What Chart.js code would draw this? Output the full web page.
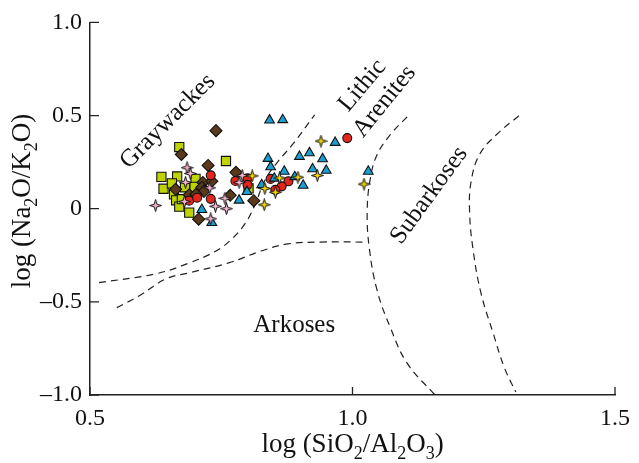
<!DOCTYPE html>
<html>
<head>
<meta charset="utf-8">
<script src="https://cdn.jsdelivr.net/npm/chart.js@4.4.1/dist/chart.umd.min.js"></script>
<style>
  html, body { margin: 0; padding: 0; background: #fff; }
  #wrap { width: 639px; height: 463px; }
</style>
</head>
<body>
<div id="wrap"><canvas id="grafico" width="639" height="463"></canvas></div>
<script>
// Ejes
const xTicks = [0.5, 1.0, 1.5];
const xTickLabels = ['0.5', '1.0', '1.5'];
const yTicks = [-1, -0.5, 0, 0.5, 1];
const yTickLabels = ['\u20131.0', '\u20130.5', '0', '0.5', '1.0'];

// Muestras [log(SiO2/Al2O3), log(Na2O/K2O)]
const squares = [[0.670, 0.331], [0.759, 0.256], [0.636, 0.171], [0.666, 0.173], [0.640, 0.107],
  [0.656, 0.136], [0.701, 0.160], [0.699, 0.117], [0.681, 0.115], [0.660, 0.077], [0.664, 0.045],
  [0.670, 0.011], [0.689, -0.021], [0.802, 0.109], [0.675, 0.051]];
const diamonds = [[0.740, 0.419], [0.674, 0.291], [0.725, 0.232], [0.778, 0.195], [0.715, 0.141],
  [0.732, 0.147], [0.713, 0.115], [0.717, 0.093], [0.663, 0.104], [0.689, 0.075], [0.702, 0.077],
  [0.767, 0.072], [0.812, 0.043], [0.707, -0.056]];
const circles = [[0.730, 0.179], [0.730, 0.053], [0.689, 0.043], [0.704, 0.059], [0.777, 0.149],
  [0.800, 0.163], [0.800, 0.128], [0.844, 0.160], [0.878, 0.147], [0.865, 0.120], [0.853, 0.101],
  [0.990, 0.379]];
const triangles = [[0.842, 0.475], [0.867, 0.477], [0.967, 0.355], [0.839, 0.269], [0.844, 0.224],
  [0.899, 0.280], [0.918, 0.299], [0.943, 0.267], [0.870, 0.200], [0.924, 0.213], [0.950, 0.205],
  [0.827, 0.128], [0.851, 0.163], [0.890, 0.171], [0.906, 0.125], [0.799, 0.091], [0.784, 0.045],
  [0.713, -0.005], [0.732, -0.075], [1.030, 0.200]];
const pinkStars = [[0.625, 0.017], [0.685, 0.220], [0.691, 0.189], [0.682, 0.141], [0.728, 0.112],
  [0.739, 0.013], [0.760, 0.000], [0.757, 0.056], [0.730, -0.054], [0.790, 0.178], [0.784, 0.141],
  [0.680, 0.038]];
const yellowStars = [[0.940, 0.363], [0.809, 0.176], [0.861, 0.165], [0.833, 0.109], [0.853, 0.088],
  [0.896, 0.169], [0.933, 0.178], [0.832, 0.021], [1.022, 0.132]];

// Líneas de los campos
const lineGraywacke = [[0.517, -0.397], [0.626, -0.349], [0.689, -0.291], [0.740, -0.227], [0.770, -0.163],
  [0.796, -0.077], [0.813, 0.013], [0.834, 0.157], [0.858, 0.253], [0.887, 0.349], [0.928, 0.504]];
const lineArkose = [[0.551, -0.531], [0.594, -0.467], [0.645, -0.376], [0.689, -0.344], [0.764, -0.291],
  [0.826, -0.227], [0.877, -0.189], [0.940, -0.179], [1.025, -0.179]];
const lineLithic = [[1.104, 0.493], [1.072, 0.397], [1.047, 0.291], [1.034, 0.163], [1.028, -0.013],
  [1.032, -0.211], [1.047, -0.440], [1.072, -0.637], [1.104, -0.829], [1.157, -1.0]];
const lineSubarkose = [[1.317, 0.499], [1.274, 0.397], [1.242, 0.291], [1.226, 0.147], [1.223, -0.013],
  [1.230, -0.227], [1.245, -0.456], [1.268, -0.669], [1.289, -0.851], [1.311, -0.984]];

// Nombres de los campos [texto, x, y, ángulo]
const fieldNames = [['Graywackes', 0.648, 0.469, -45], ['Lithic', 1.019, 0.661, -50],
  ['Arenites', 1.061, 0.576, -51], ['Subarkoses', 1.146, 0.072, -54], ['Arkoses', 0.889, -0.625, 0]];

const FONT = '"Liberation Serif", "Times New Roman", serif';
const toXY = a => a.map(p => ({ x: p[0], y: p[1] }));

// Estrella de cuatro puntas
function estrella(fill) {
  const c = document.createElement('canvas');
  c.width = 13; c.height = 13;
  const g = c.getContext('2d');
  g.beginPath();
  for (let i = 0; i < 8; i++) {
    const a = i * Math.PI / 4 - Math.PI / 2;
    const r = i % 2 ? 1.9 : 6;
    g.lineTo(6.5 + Math.cos(a) * r, 6.5 + Math.sin(a) * r);
  }
  g.closePath();
  g.fillStyle = fill; g.fill();
  g.strokeStyle = '#111'; g.lineWidth = 1; g.stroke();
  return c;
}

function puntos(data, style, radius, color) {
  return {
    data: toXY(data), pointStyle: style, pointRadius: radius, pointHoverRadius: radius,
    backgroundColor: color, borderColor: '#111', borderWidth: 1.1, showLine: false
  };
}
function linea(data) {
  return {
    data: toXY(data), showLine: true, pointRadius: 0, borderColor: '#222', borderWidth: 1.2,
    borderDash: [7, 5], tension: 0.4, fill: false
  };
}

// Texto con subíndices
function textoSub(ctx, parts, x, y, size) {
  const big = size + 'px ' + FONT, small = Math.round(size * 0.68) + 'px ' + FONT;
  let w = 0;
  parts.forEach(p => { ctx.font = p[1] ? small : big; w += ctx.measureText(p[0]).width; });
  let cx = x - w / 2;
  ctx.textAlign = 'left';
  ctx.textBaseline = 'alphabetic';
  parts.forEach(p => {
    ctx.font = p[1] ? small : big;
    ctx.fillText(p[0], cx, y + (p[1] ? size * 0.25 : 0));
    cx += ctx.measureText(p[0]).width;
  });
}

const extras = {
  id: 'extras',
  afterDraw(chart) {
    const ctx = chart.ctx, xs = chart.scales.x, ys = chart.scales.y, a = chart.chartArea;
    ctx.save();
    // marcas hacia dentro
    ctx.strokeStyle = '#222'; ctx.lineWidth = 1.3;
    ctx.beginPath();
    xTicks.forEach(v => { const px = xs.getPixelForValue(v); ctx.moveTo(px, a.bottom); ctx.lineTo(px, a.bottom - 8); });
    yTicks.forEach(v => { const py = ys.getPixelForValue(v); ctx.moveTo(a.left, py); ctx.lineTo(a.left + 9, py); });
    ctx.stroke();
    // nombres de los campos
    ctx.fillStyle = '#111';
    ctx.font = '25px ' + FONT;
    fieldNames.forEach(f => {
      ctx.save();
      ctx.translate(xs.getPixelForValue(f[1]), ys.getPixelForValue(f[2]));
      ctx.rotate(f[3] * Math.PI / 180);
      ctx.textAlign = 'center'; ctx.textBaseline = 'middle';
      ctx.fillText(f[0], 0, 0);
      ctx.restore();
    });
    // títulos de los ejes
    textoSub(ctx, [['log (SiO', 0], ['2', 1], ['/Al', 0], ['2', 1], ['O', 0], ['3', 1], [')', 0]],
      (a.left + a.right) / 2, 452, 27);
    ctx.save();
    ctx.translate(30, 201);
    ctx.rotate(-Math.PI / 2);
    textoSub(ctx, [['log (Na', 0], ['2', 1], ['O/K', 0], ['2', 1], ['O)', 0]], 0, 0, 27);
    ctx.restore();
    ctx.restore();
  }
};

const ctx = document.getElementById('grafico').getContext('2d');
const grafico = new Chart(ctx, {
  type: 'scatter',
  data: {
    datasets: [
      puntos(yellowStars, estrella('#f6d800'), 6),
      puntos(pinkStars, estrella('#f5b3d2'), 6),
      puntos(triangles, 'triangle', 5.6, '#1b9fd3'),
      puntos(circles, 'circle', 4.5, '#e2261c'),
      puntos(diamonds, 'rectRot', 6, '#5b3a1c'),
      puntos(squares, 'rect', 6.5, '#bfd300'),
      linea(lineGraywacke),
      linea(lineArkose),
      linea(lineLithic),
      linea(lineSubarkose)
    ]
  },
  options: {
    responsive: false,
    animation: false,
    layout: { padding: { top: 20, right: 19, left: 0, bottom: 0 } },
    plugins: { legend: { display: false }, tooltip: { enabled: false } },
    scales: {
      x: {
        type: 'linear', min: 0.5, max: 1.5,
        afterBuildTicks: s => { s.ticks = xTicks.map(v => ({ value: v })); },
        afterFit: s => { s.height = 68; },
        grid: { display: false, drawTicks: false },
        border: { display: true, color: '#222', width: 1.5 },
        ticks: {
          padding: 9, color: '#111', font: { family: FONT, size: 24 }, maxRotation: 0,
          callback: (v, i) => xTickLabels[i]
        }
      },
      y: {
        type: 'linear', min: -1, max: 1,
        afterBuildTicks: s => { s.ticks = yTicks.map(v => ({ value: v })); },
        afterFit: s => { s.width = 90; },
        grid: { display: false, drawTicks: false },
        border: { display: true, color: '#222', width: 1.5 },
        ticks: {
          padding: 8, color: '#111', font: { family: FONT, size: 24 },
          callback: (v, i) => yTickLabels[i]
        }
      }
    }
  },
  plugins: [extras]
});
</script>
</body>
</html>
